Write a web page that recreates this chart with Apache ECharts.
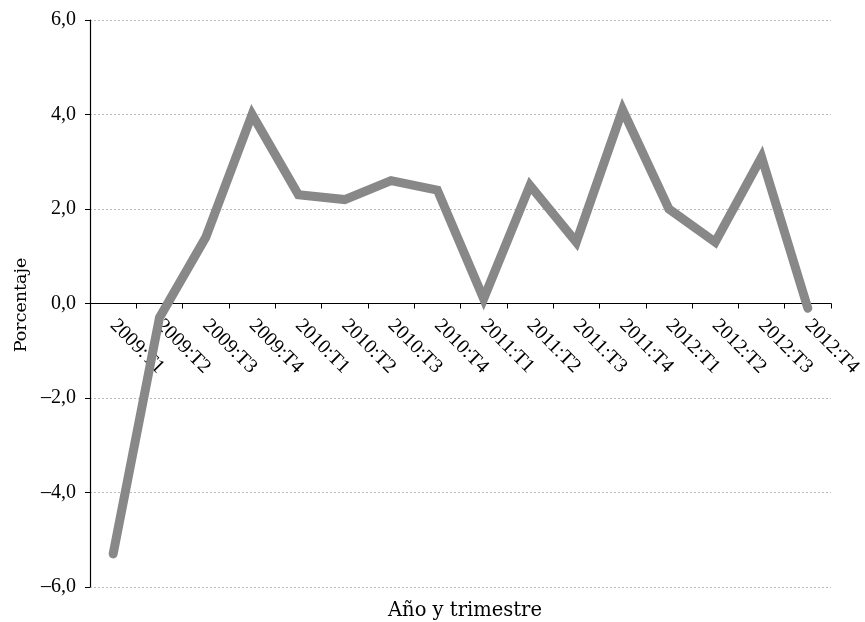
<!DOCTYPE html>
<html>
<head>
<meta charset="utf-8">
<script src="https://cdn.jsdelivr.net/npm/echarts@6/dist/echarts.min.js"></script>
<style>html,body{margin:0;padding:0;background:#fff;}#c{width:865px;height:622px;}</style>
</head>
<body>
<div id="c"></div>
<script>
const categories = ['2009:T1','2009:T2','2009:T3','2009:T4','2010:T1','2010:T2','2010:T3','2010:T4','2011:T1','2011:T2','2011:T3','2011:T4','2012:T1','2012:T2','2012:T3','2012:T4'];
const values = [-5.3,-0.3,1.4,4.0,2.3,2.2,2.6,2.4,0.1,2.5,1.3,4.1,2.0,1.3,3.1,-0.1];
const yTitle = 'Porcentaje';
const xTitle = 'Año y trimestre';
const FONT = 'Liberation Serif';
const TFONT = 'DejaVu Serif';

const chart = echarts.init(document.getElementById('c'));
chart.setOption({
  animation: false,
  backgroundColor: '#fff',
  grid: {left: 90, right: 34, top: 20, bottom: 35, containLabel: false, outerBoundsMode: 'none'},
  xAxis: {
    type: 'category',
    data: categories,
    boundaryGap: true,
    position: 'bottom',
    offset: -283.5,
    axisLine: {onZero: false, lineStyle: {color: '#000', width: 1.2}},
    axisTick: {show: true, inside: false, length: 5, lineStyle: {color: '#000'}},
    axisLabel: {rotate: -45, margin: 19, color: '#000', fontFamily: FONT, fontSize: 20, interval: 0},
    splitLine: {show: false}
  },
  yAxis: {
    type: 'value',
    min: -6, max: 6, interval: 2,
    axisLine: {show: true, lineStyle: {color: '#000', width: 1.2}},
    axisTick: {show: true, length: 5, lineStyle: {color: '#000'}},
    axisLabel: {color: '#000', fontFamily: FONT, fontSize: 20, margin: 14,
      formatter: v => (v < 0 ? '–' : '') + Math.abs(v).toFixed(1).replace('.', ',')},
    splitLine: {show: true, lineStyle: {color: '#bbb', type: [2, 2], width: 1}}
  },
  graphic: [
    {type: 'text', x: 21, y: 305, rotation: Math.PI/2,
      style: {text: yTitle, x: 0, y: 0, align: 'center', verticalAlign: 'middle', fontFamily: TFONT, fontSize: 17.5, fill: '#000'}},
    {type: 'text', x: 465, y: 611,
      style: {text: xTitle, x: 0, y: 0, align: 'center', verticalAlign: 'middle', fontFamily: TFONT, fontSize: 19.5, fill: '#000'}}
  ],
  series: [{
    type: 'line',
    data: values,
    showSymbol: false,
    symbol: 'none',
    lineStyle: {color: '#888', width: 9, cap: 'round', join: 'miter'},
    z: 3
  }]
});
</script>
</body>
</html>
